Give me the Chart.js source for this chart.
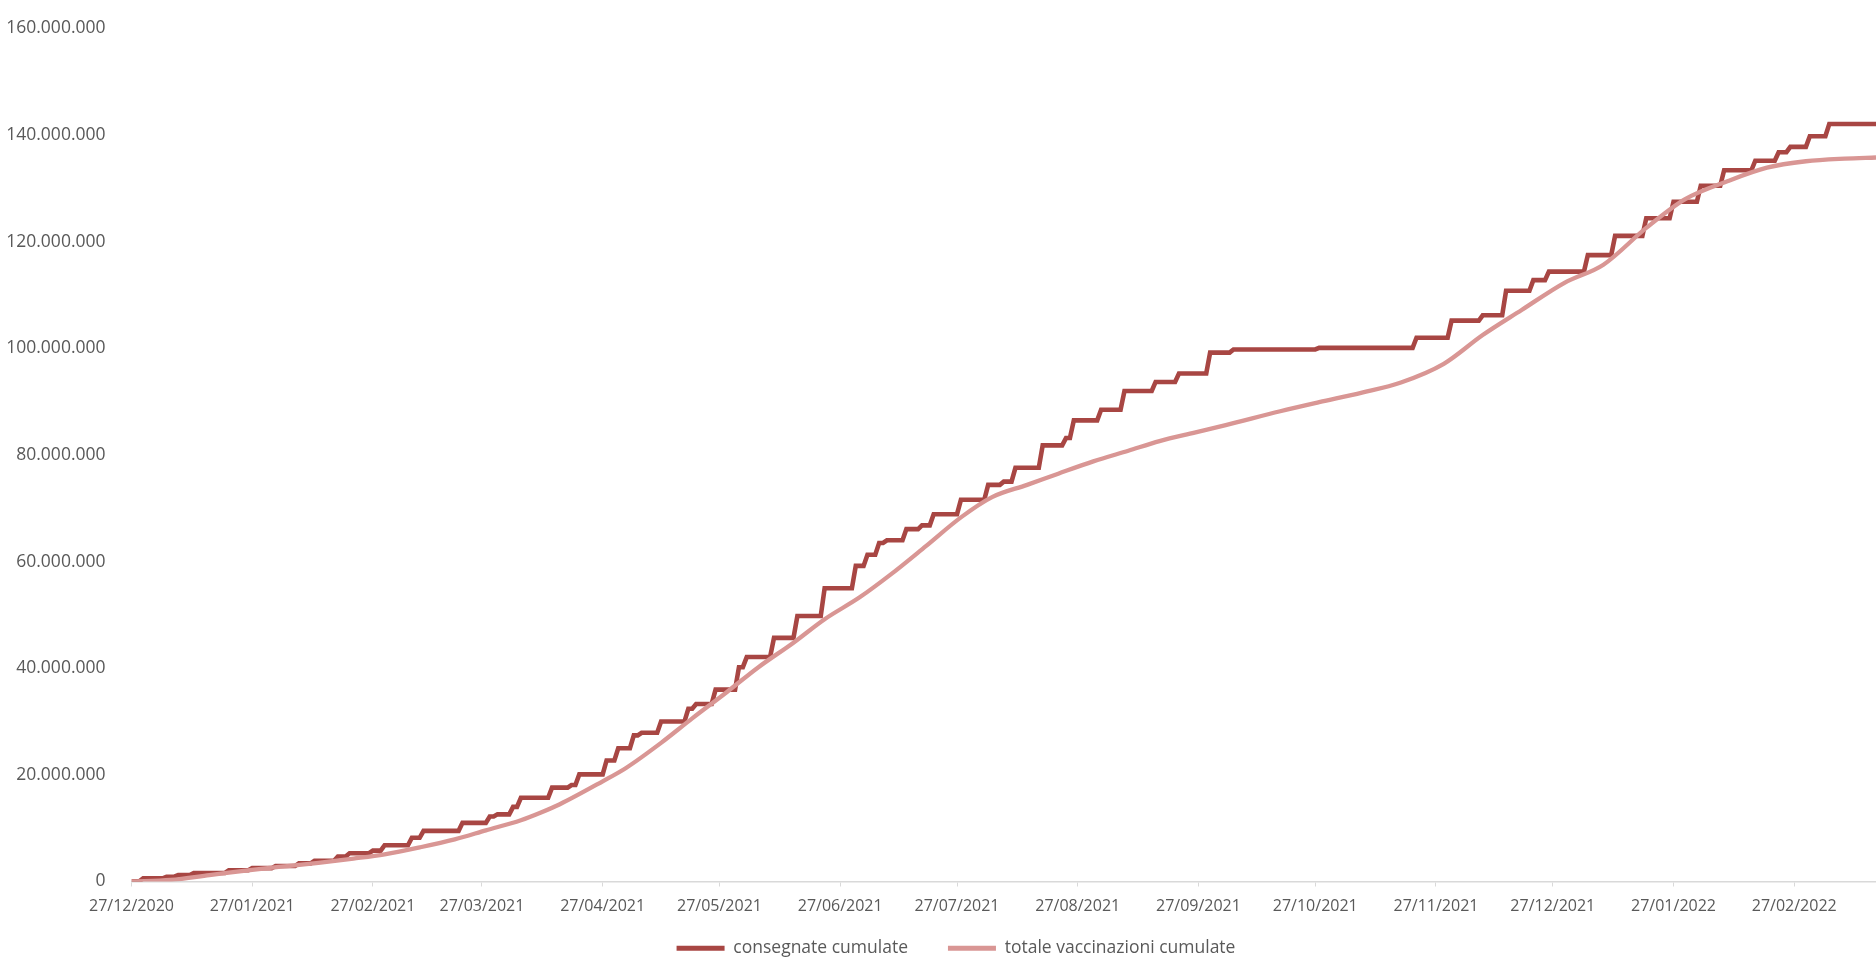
<!DOCTYPE html>
<html>
<head>
<meta charset="utf-8">
<script src="https://cdn.jsdelivr.net/npm/chart.js@4/dist/chart.umd.min.js"></script>
<style>
  html, body { margin: 0; padding: 0; background: #ffffff; overflow: hidden; }
  #wrap { width: 1876px; height: 957px; }
</style>
</head>
<body>
<div id="wrap"><canvas id="vacciniChart" width="1876" height="957"></canvas></div>
<script>
// giorni contati dal 27/12/2020, valori in milioni di dosi

// Tick asse x (27 di ogni mese)
const tickGiorni = [0, 31, 62, 90, 121, 151, 182, 212, 243, 274, 304, 335, 365, 396, 427];
const tickEtichette = [
  "27/12/2020", "27/01/2021", "27/02/2021", "27/03/2021", "27/04/2021",
  "27/05/2021", "27/06/2021", "27/07/2021", "27/08/2021", "27/09/2021",
  "27/10/2021", "27/11/2021", "27/12/2021", "27/01/2022", "27/02/2022"
];
const ultimoGiorno = 448;

// Consegne: giorno in cui arriva la fornitura e totale cumulato
const consegneGiorni = [
  0, 3, 9, 12, 16, 25, 31, 37, 43, 47, 53, 56, 62, 65, 72, 75, 85, 92, 94, 98,
  100, 108, 113, 115, 122, 125, 129, 131, 136, 143, 145, 150, 156, 158, 165, 171, 178, 186, 189, 192,
  194, 199, 203, 206, 213, 220, 224, 227, 234, 240, 242, 249, 255, 263, 269, 277, 283, 305, 330, 339,
  347, 353, 360, 364, 374, 381, 389, 396, 403, 409, 417, 423, 426, 431, 436
];
const consegneCumulate = [
  0.05, 0.6, 0.9, 1.2, 1.6, 2.1, 2.5, 2.9, 3.4, 3.9, 4.7, 5.3, 5.8, 6.8, 8.2, 9.5, 11.0, 12.2, 12.6, 14.0,
  15.7, 17.6, 18.1, 20.1, 22.7, 25.0, 27.4, 27.9, 30.0, 32.4, 33.3, 36.0, 40.2, 42.1, 45.7, 49.8, 55.0, 59.2, 61.3, 63.5,
  64.0, 66.1, 66.8, 68.9, 71.6, 74.4, 75.0, 77.6, 81.8, 83.2, 86.5, 88.5, 92.0, 93.7, 95.3, 99.2, 99.8, 100.1, 102.0, 105.2,
  106.2, 110.8, 112.8, 114.4, 117.5, 121.1, 124.4, 127.5, 130.5, 133.4, 135.2, 136.8, 137.8, 139.8, 142.1
];

// Somministrazioni: campioni
const vaxGiorni = [
  0, 10, 20, 31, 40, 48, 57, 65, 74, 83, 91, 100, 105, 110, 121, 127, 136, 144, 153, 161,
  170, 178, 187, 195, 204, 213, 221, 230, 238, 247, 256, 264, 273, 281, 295, 305, 316, 326, 337, 347,
  357, 368, 378, 389, 399, 410, 420, 430, 440, 448
];
const vaxCumulate = [
  0.0, 0.3, 1.2, 2.2, 2.9, 3.5, 4.3, 5.1, 6.4, 7.9, 9.6, 11.5, 12.9, 14.5, 18.8, 21.3, 26.0, 30.6, 35.6, 40.2,
  44.8, 49.2, 53.3, 57.6, 62.9, 68.3, 72.1, 74.4, 76.5, 78.8, 80.8, 82.6, 84.2, 85.6, 88.2, 89.9, 91.7, 93.6, 97.1, 102.5,
  107.2, 112.3, 115.7, 122.6, 128.0, 131.4, 133.9, 135.1, 135.6, 135.8
];

// Costruisco i punti: ogni consegna sale in un giorno
const puntiConsegne = [];
consegneGiorni.forEach((g, i) => {
  if (i > 0) puntiConsegne.push({ x: g - 1, y: consegneCumulate[i - 1] });
  puntiConsegne.push({ x: g, y: consegneCumulate[i] });
});
puntiConsegne.push({ x: ultimoGiorno, y: consegneCumulate[consegneCumulate.length - 1] });

const puntiVax = vaxGiorni.map((g, i) => ({ x: g, y: vaxCumulate[i] }));

// Formato italiano con i punti delle migliaia
function formatta(milioni) {
  return String(Math.round(milioni * 1e6)).replace(/\B(?=(\d{3})+(?!\d))/g, ".");
}

const grigio = "#595959";
const fontBase = "'Open Sans', 'Noto Sans', sans-serif";
const spazioVoci = 40; // spazio tra le due voci della legenda

// Legenda bassa e compatta: occupa poco in altezza ma tiene lo spazio largo tra le voci
const legendaBassa = {
  id: "legendaBassa",
  afterInit(chart) {
    const lg = chart.legend;
    const fitOrig = lg.fit.bind(lg);
    const drawOrig = lg.draw.bind(lg);
    lg.fit = function () {
      fitOrig();
      this.height = 38.5;
    };
    lg.draw = function () {
      const t = this.top, l = this.left, r = this.right;
      this.top = this.bottom - 17.5 - spazioVoci;
      this.left = l + 18;
      this.right = r + 18;
      drawOrig();
      this.top = t;
      this.left = l;
      this.right = r;
    };
  },
};

new Chart(document.getElementById("vacciniChart"), {
  type: "line",
  data: {
    datasets: [
      {
        label: "consegnate cumulate",
        data: puntiConsegne,
        borderColor: "#A84643",
        backgroundColor: "#A84643",
        borderWidth: 4.6,
        pointRadius: 0,
        tension: 0,
        order: 1,
      },
      {
        label: "totale vaccinazioni cumulate",
        data: puntiVax,
        borderColor: "#D99694",
        backgroundColor: "#D99694",
        borderWidth: 4.3,
        pointRadius: 0,
        cubicInterpolationMode: "monotone",
        order: 0,
      },
    ],
  },
  plugins: [legendaBassa],
  options: {
    responsive: false,
    animation: false,
    devicePixelRatio: 1,
    layout: { padding: { top: 20, right: 0, left: 0, bottom: 0 } },
    plugins: {
      tooltip: { enabled: false },
      legend: {
        position: "bottom",
        labels: {
          color: grigio,
          font: { family: fontBase, size: 17.5 },
          boxWidth: 48,
          boxHeight: 5,
          padding: spazioVoci,
          sort: (a, b) => a.datasetIndex - b.datasetIndex,
          generateLabels(chart) {
            const items = Chart.defaults.plugins.legend.labels.generateLabels(chart);
            items.forEach((it) => { it.lineWidth = 0; });
            return items;
          },
        },
      },
    },
    scales: {
      x: {
        type: "linear",
        min: 0,
        max: ultimoGiorno,
        afterBuildTicks: (scale) => {
          scale.ticks = tickGiorni.map((v) => ({ value: v }));
        },
        afterFit: (scale) => { scale.height = 37; },
        ticks: {
          autoSkip: false,
          maxRotation: 0,
          padding: 10,
          color: grigio,
          font: { family: fontBase, size: 16 },
          callback: (v) => tickEtichette[tickGiorni.indexOf(v)],
        },
        grid: {
          display: true,
          drawOnChartArea: false,
          drawTicks: true,
          tickLength: 5,
          tickColor: "#D9D9D9",
          color: "#D9D9D9",
        },
        border: { display: true, color: "#D9D9D9", width: 1.5 },
      },
      y: {
        min: 0,
        max: 160,
        afterFit: (scale) => { scale.width = 131.5; },
        ticks: {
          stepSize: 20,
          padding: 18,
          color: grigio,
          font: { family: fontBase, size: 17.5 },
          callback: (v) => formatta(v),
        },
        grid: { display: false },
        border: { display: false },
      },
    },
  },
});
</script>
</body>
</html>
